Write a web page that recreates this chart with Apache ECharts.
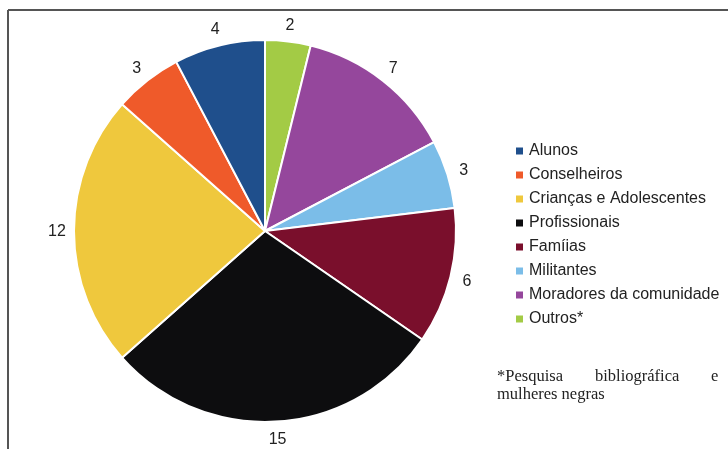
<!DOCTYPE html>
<html>
<head>
<meta charset="utf-8">
<script src="https://cdn.jsdelivr.net/npm/echarts@6/dist/echarts.min.js"></script>
<style>
  html, body { margin: 0; padding: 0; background: #fff; }
  #chart { width: 728px; height: 449px; }
</style>
</head>
<body>
<div id="chart"></div>
<script>
// legend order
const legendNames = ['Alunos', 'Conselheiros', 'Crianças e Adolescentes', 'Profissionais', 'Famíias', 'Militantes', 'Moradores da comunidade', 'Outros*']
// slices clockwise from 12 o'clock
const sliceNames = ['Outros*', 'Moradores da comunidade', 'Militantes', 'Famíias', 'Profissionais', 'Crianças e Adolescentes', 'Conselheiros', 'Alunos']
const sliceValues = [2, 7, 3, 6, 15, 12, 3, 4]
const sliceColors = ['#a3cb45', '#95479c', '#7bbde8', '#7a0f2c', '#0d0d0f', '#efc83d', '#ef5a2a', '#1f4f8c']

const chart = echarts.init(document.getElementById('chart'), null, {renderer: 'canvas'})

const serif = '16.5px "Liberation Serif"'

const option = {
  animation: false,
  legend: {
    data: legendNames,
    orient: 'vertical',
    left: 509,
    top: 137,
    icon: 'rect',
    itemWidth: 9,
    itemHeight: 9,
    itemGap: 6,
    selectedMode: false,
    textStyle: {
      fontFamily: 'Liberation Sans',
      fontSize: 16,
      color: '#222',
      lineHeight: 18
    }
  },
  graphic: [
    {type: 'line', shape: {x1: 8, y1: 10, x2: 8, y2: 449}, style: {stroke: '#555', lineWidth: 2}},
    {type: 'line', shape: {x1: 8, y1: 10, x2: 728, y2: 10}, style: {stroke: '#555', lineWidth: 2}},
    {type: 'text', left: 497, top: 368, style: {text: '*Pesquisa', font: serif, fill: '#222'}},
    {type: 'text', left: 595, top: 368, style: {text: 'bibliográfica', font: serif, fill: '#222'}},
    {type: 'text', left: 711, top: 368, style: {text: 'e', font: serif, fill: '#222'}},
    {type: 'text', left: 497, top: 386, style: {text: 'mulheres negras', font: serif, fill: '#222'}}
  ],
  series: [
    {
      type: 'pie',
      center: [265, 231],
      radius: [0, 191],
      startAngle: 90,
      clockwise: true,
      itemStyle: {
        borderColor: '#fff',
        borderWidth: 2
      },
      label: {show: false},
      labelLine: {show: false},
      emphasis: {disabled: true},
      data: sliceNames.map((n, i) => ({name: n, value: sliceValues[i], itemStyle: {color: sliceColors[i]}}))
    },
    {
      // invisible ring, only used to center value labels just outside the pie
      type: 'pie',
      center: [265, 232],
      radius: [197, 213],
      startAngle: 90,
      clockwise: true,
      silent: true,
      itemStyle: {color: 'rgba(0,0,0,0)', borderWidth: 0},
      label: {
        show: true,
        position: 'inside',
        formatter: '{c}',
        fontFamily: 'Liberation Sans',
        fontSize: 16,
        color: '#222'
      },
      labelLine: {show: false},
      emphasis: {disabled: true},
      data: sliceNames.map((n, i) => ({name: n, value: sliceValues[i]}))
    }
  ]
}

chart.setOption(option)
</script>
</body>
</html>
